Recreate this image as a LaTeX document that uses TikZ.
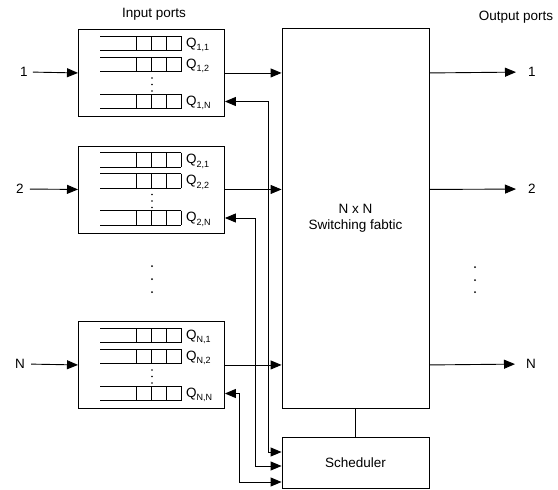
\documentclass[tikz,border=0pt]{standalone}
\usepackage{fontspec}
\setmainfont{Liberation Sans}
\usetikzlibrary{arrows.meta,calc}
\tikzset{
  box/.style={draw, line width=0.9pt, minimum width=146pt, minimum height=87pt, inner sep=0pt, anchor=north west},
  bigbox/.style={draw, line width=0.9pt, inner sep=0pt, align=center, font=\fontsize{13.5}{16}\selectfont},
  conn/.style={draw, line width=0.9pt, -{Triangle[length=11pt,width=9pt]}},
  fb/.style={draw, line width=0.9pt, {Triangle[length=11pt,width=9pt]}-{Triangle[length=11pt,width=9pt]}},
  plain/.style={draw, line width=0.9pt},
  lbl/.style={font=\fontsize{13.5}{15}\selectfont, inner sep=0pt},
  qlbl/.style={font=\fontsize{13.5}{15}\selectfont, inner sep=0pt, anchor=west},
  qline/.style={line width=0.9pt},
  dotmark/.style={fill=black},
}
\newcommand\qrow[3]{%
  \draw[qline] (181,#1) -- (100,#1) (100,#1+14.5) -- (181,#1+14.5)
     (136,#1) -- (136,#1+14.5) (151,#1) -- (151,#1+14.5)
     (166,#1) -- (166,#1+14.5) (181,#1) -- (181,#1+14.5);
  \node[qlbl] (#2) at (186,#1+9) {Q\raisebox{-3.5pt}{\fontsize{9}{9}\selectfont #3}};
}
\begin{document}
\begin{tikzpicture}[x=1pt,y=-1pt]
\useasboundingbox (0,0) rectangle (558,490);

% input boxes with queues
\foreach \t/\n/\i in {29/1/1, 145.5/2/2, 321/N/N}{
  \node[box] (b\n) at (78,\t) {};
  \qrow{\t+7}{q\n a}{\i,1}
  \qrow{\t+28}{q\n b}{\i,2}
  \qrow{\t+65}{q\n c}{\i,N}
  \fill[dotmark] (152,\t+49) circle (0.8) (152,\t+55.5) circle (0.8) (152,\t+62) circle (0.8);
  \coordinate (r\n) at ($(b\n.north east)+(0,72.5)$);
}

% fabric and scheduler
\node[bigbox, minimum width=147pt, minimum height=380pt] (fab) at (355.5,218) {N x N\\Switching fabtic};
\node[bigbox, minimum width=147pt, minimum height=51pt] (sched) at (355.5,462.5) {Scheduler};
\draw[plain] (fab.south) -- (sched.north);

% labels
\node[lbl] (inp) at (154,14) {Input ports};
\node[lbl] (outp) at (516,17) {Output ports};
\node[lbl] (i1) at (24,72) {1};
\node[lbl] (i2) at (20,189) {2};
\node[lbl] (iN) at (20,364) {N};
\node[lbl, anchor=west] (o1) at (528,72) {1};
\node[lbl, anchor=west] (o2) at (528,189) {2};
\node[lbl, anchor=west] (oN) at (526,364) {N};

% input arrows
\draw[conn, shorten <=5pt] (i1.east) -- (b1.west);
\draw[conn, shorten <=6pt] (i2.east) -- (b2.west);
\draw[conn, shorten <=6pt] (iN.east) -- (bN.west);

% box to fabric
\draw[conn] (b1.east) -- (b1.east -| fab.west);
\draw[conn] (b2.east) -- (b2.east -| fab.west);
\draw[conn] (bN.east) -- (bN.east -| fab.west);

% fabric to outputs
\draw[conn, shorten >=12pt] (fab.east |- b1.east) -- (o1.west);
\draw[conn, shorten >=12pt] (fab.east |- b2.east) -- (o2.west);
\draw[conn, shorten >=11pt] (fab.east |- bN.east) -- (oN.west);

% scheduler feedback
\draw[fb] (r1) -- ++(44,0) |- ([yshift=10.5pt]sched.west);
\draw[fb] (r2) -- ++(31,0) |- ([yshift=-3.5pt]sched.west);
\draw[fb] (rN) -- ++(15,0) |- ([yshift=-19.5pt]sched.west);

% vertical ellipses
\fill[dotmark] (152,266) circle (1) (152,279) circle (1) (152,292) circle (1);
\fill[dotmark] (475,267) circle (1) (475,280) circle (1) (475,292) circle (1);
\end{tikzpicture}
\end{document}
